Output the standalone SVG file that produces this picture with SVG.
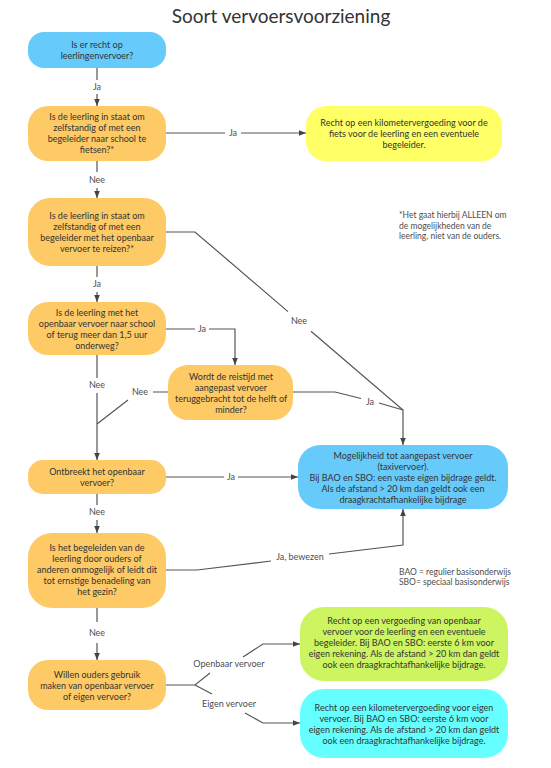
<svg xmlns="http://www.w3.org/2000/svg" width="551" height="768" viewBox="0 0 551 768">
<style>
.bg{fill:#ffffff}
.title{font-family:Lato,"Open Sans","Liberation Sans",sans-serif;font-size:19px;fill:#333333;text-anchor:middle}
.t{font-family:Lato,"Open Sans","Liberation Sans",sans-serif;font-size:9px;fill:#333333;text-anchor:middle}
.lbl{font-family:Lato,"Open Sans","Liberation Sans",sans-serif;font-size:9px;fill:#4d4d4d;text-anchor:middle}
.note{font-family:Lato,"Open Sans","Liberation Sans",sans-serif;font-size:8.5px;fill:#4d4d4d}
.conn{stroke:#555555;stroke-width:1.2;fill:none}
.blue{fill:#66CBFB}
.orange{fill:#FDCA66}
.yellow{fill:#FFFF66}
.green{fill:#CCF561}
.cyan{fill:#66FFFF}
</style>
<defs>
<marker id="ah" viewBox="0 0 10 8" refX="10" refY="4" markerWidth="7" markerHeight="5.6" markerUnits="userSpaceOnUse" orient="auto">
<path d="M0,0 L10,4 L0,8 z" fill="#444444"/>
</marker>
</defs>
<rect class="bg" x="0" y="0" width="551" height="768"/>
<text class="title" x="281" y="23">Soort vervoersvoorziening</text>

<g id="connectors">
<path class="conn" d="M97,68 L97,80 M97,94 L97,106" marker-end="url(#ah)"/>
<text class="lbl" x="97" y="90">Ja</text>
<path class="conn" d="M165,133 L225,133 M241,133 L306,133" marker-end="url(#ah)"/>
<text class="lbl" x="233" y="136">Ja</text>
<path class="conn" d="M97,161 L97,172 M97,188 L97,198" marker-end="url(#ah)"/>
<text class="lbl" x="97" y="183">Nee</text>
<path class="conn" d="M165,232 L195,232 L288,311.6 M311,331.3 L403,410 L403,445" marker-end="url(#ah)"/>
<text class="lbl" x="299" y="324">Nee</text>
<path class="conn" d="M97,266 L97,277 M97,292 L97,302" marker-end="url(#ah)"/>
<text class="lbl" x="97" y="287">Ja</text>
<path class="conn" d="M165,329 L195,329 M209,329 L235,329 L235,365" marker-end="url(#ah)"/>
<text class="lbl" x="202" y="332">Ja</text>
<path class="conn" d="M97,355 L97,378 M97,393 L97,460" marker-end="url(#ah)"/>
<text class="lbl" x="97" y="388">Nee</text>
<path class="conn" d="M168,392 L153,392 M128,400 L97,424"/>
<text class="lbl" x="140" y="395">Nee</text>
<path class="conn" d="M293,392 L335,392 L361,398.5 M379,403 L403,410"/>
<text class="lbl" x="370" y="405">Ja</text>
<path class="conn" d="M165,477 L224,477 M238,477 L298,477" marker-end="url(#ah)"/>
<text class="lbl" x="231" y="480">Ja</text>
<path class="conn" d="M97,494 L97,505 M97,520 L97,533" marker-end="url(#ah)"/>
<text class="lbl" x="97" y="515">Nee</text>
<path class="conn" d="M165,570 L197,570 L271,561 M329,554 L403,545 L403,509" marker-end="url(#ah)"/>
<text class="lbl" x="300" y="560">Ja, bewezen</text>
<path class="conn" d="M97,608 L97,622 M97,643 L97,660" marker-end="url(#ah)"/>
<text class="lbl" x="97" y="636">Nee</text>
<path class="conn" d="M165,685 L195,685 L210,673 M243,657 L263,644 L300,644" marker-end="url(#ah)"/>
<text class="lbl" x="229" y="667">Openbaar vervoer</text>
<path class="conn" d="M195,685 L212,694 M245,713 L263,723 L300,723" marker-end="url(#ah)"/>
<text class="lbl" x="229" y="707">Eigen vervoer</text>
</g>

<g id="n1">
<rect class="blue" x="28" y="32" width="138" height="36" rx="16"/>
<text class="t" x="97" y="47.5">Is er recht op</text>
<text class="t" x="97" y="58.5">leerlingenvervoer?</text>
</g>
<g id="n2">
<rect class="orange" x="28" y="106" width="138" height="55" rx="20"/>
<text class="t" x="97" y="120">Is de leerling in staat om</text>
<text class="t" x="97" y="131">zelfstandig of met een</text>
<text class="t" x="97" y="142">begeleider naar school te</text>
<text class="t" x="97" y="153">fietsen?*</text>
</g>
<g id="n_fiets">
<rect class="yellow" x="306" y="106" width="196" height="55" rx="20"/>
<text class="t" x="404" y="126">Recht op een kilometervergoeding voor de</text>
<text class="t" x="404" y="137">fiets voor de leerling en een eventuele</text>
<text class="t" x="404" y="148">begeleider.</text>
</g>
<g id="footnote">
<text class="note" x="399" y="218">*Het gaat hierbij ALLEEN om</text>
<text class="note" x="399" y="228.5">de mogelijkheden van de</text>
<text class="note" x="399" y="239">leerling, niet van de ouders.</text>
</g>
<g id="n3">
<rect class="orange" x="28" y="198" width="138" height="68" rx="22"/>
<text class="t" x="97" y="219">Is de leerling in staat om</text>
<text class="t" x="97" y="230">zelfstandig of met een</text>
<text class="t" x="97" y="241">begeleider met het openbaar</text>
<text class="t" x="97" y="252">vervoer te reizen?*</text>
</g>
<g id="n4">
<rect class="orange" x="28" y="302" width="138" height="53" rx="20"/>
<text class="t" x="97" y="315.5">Is de leerling met het</text>
<text class="t" x="97" y="326.5">openbaar vervoer naar school</text>
<text class="t" x="97" y="337.5">of terug meer dan 1,5 uur</text>
<text class="t" x="97" y="348.5">onderweg?</text>
</g>
<g id="n5">
<rect class="orange" x="168" y="365" width="125" height="55" rx="20"/>
<text class="t" x="231" y="379.5">Wordt de reistijd met</text>
<text class="t" x="231" y="390.5">aangepast vervoer</text>
<text class="t" x="231" y="401.5">teruggebracht tot de helft of</text>
<text class="t" x="231" y="412.5">minder?</text>
</g>
<g id="n6">
<rect class="orange" x="28" y="460" width="138" height="34" rx="15"/>
<text class="t" x="97" y="474.5">Ontbreekt het openbaar</text>
<text class="t" x="97" y="485.5">vervoer?</text>
</g>
<g id="n_taxi">
<rect class="blue" x="298" y="445" width="210" height="64" rx="22"/>
<text class="t" x="403" y="458.5">Mogelijkheid tot aangepast vervoer</text>
<text class="t" x="403" y="469.5">(taxivervoer).</text>
<text class="t" x="403" y="480.5">Bij BAO en SBO: een vaste eigen bijdrage geldt.</text>
<text class="t" x="403" y="491.5">Als de afstand &gt; 20 km dan geldt ook een</text>
<text class="t" x="403" y="502.5">draagkrachtafhankelijke bijdrage</text>
</g>
<g id="n8">
<rect class="orange" x="28" y="533" width="138" height="75" rx="24"/>
<text class="t" x="97" y="551">Is het begeleiden van de</text>
<text class="t" x="97" y="562">leerling door ouders of</text>
<text class="t" x="97" y="573">anderen onmogelijk of leidt dit</text>
<text class="t" x="97" y="584">tot ernstige benadeling van</text>
<text class="t" x="97" y="595">het gezin?</text>
</g>
<g id="legend">
<text class="note" x="399" y="575">BAO = regulier basisonderwijs</text>
<text class="note" x="399" y="585">SBO= speciaal basisonderwijs</text>
</g>
<g id="n9">
<rect class="orange" x="28" y="660" width="138" height="50" rx="20"/>
<text class="t" x="97" y="677.5">Willen ouders gebruik</text>
<text class="t" x="97" y="688.5">maken van openbaar vervoer</text>
<text class="t" x="97" y="699.5">of eigen vervoer?</text>
</g>
<g id="n_ov">
<rect class="green" x="300" y="607" width="208" height="74" rx="24"/>
<text class="t" x="404" y="624">Recht op een vergoeding van openbaar</text>
<text class="t" x="404" y="635">vervoer voor de leerling en een eventuele</text>
<text class="t" x="404" y="646">begeleider. Bij BAO en SBO: eerste 6 km voor</text>
<text class="t" x="404" y="657">eigen rekening.  Als de afstand &gt; 20 km dan geldt</text>
<text class="t" x="404" y="668">ook een draagkrachtafhankelijke bijdrage.</text>
</g>
<g id="n_eigen">
<rect class="cyan" x="300" y="689" width="208" height="69" rx="24"/>
<text class="t" x="404" y="710.5">Recht op een kilometervergoeding voor eigen</text>
<text class="t" x="404" y="721.5">vervoer.  Bij BAO en SBO: eerste 6 km voor</text>
<text class="t" x="404" y="732.5">eigen rekening.  Als de afstand &gt; 20 km dan geldt</text>
<text class="t" x="404" y="743.5">ook een draagkrachtafhankelijke bijdrage.</text>
</g>
</svg>
